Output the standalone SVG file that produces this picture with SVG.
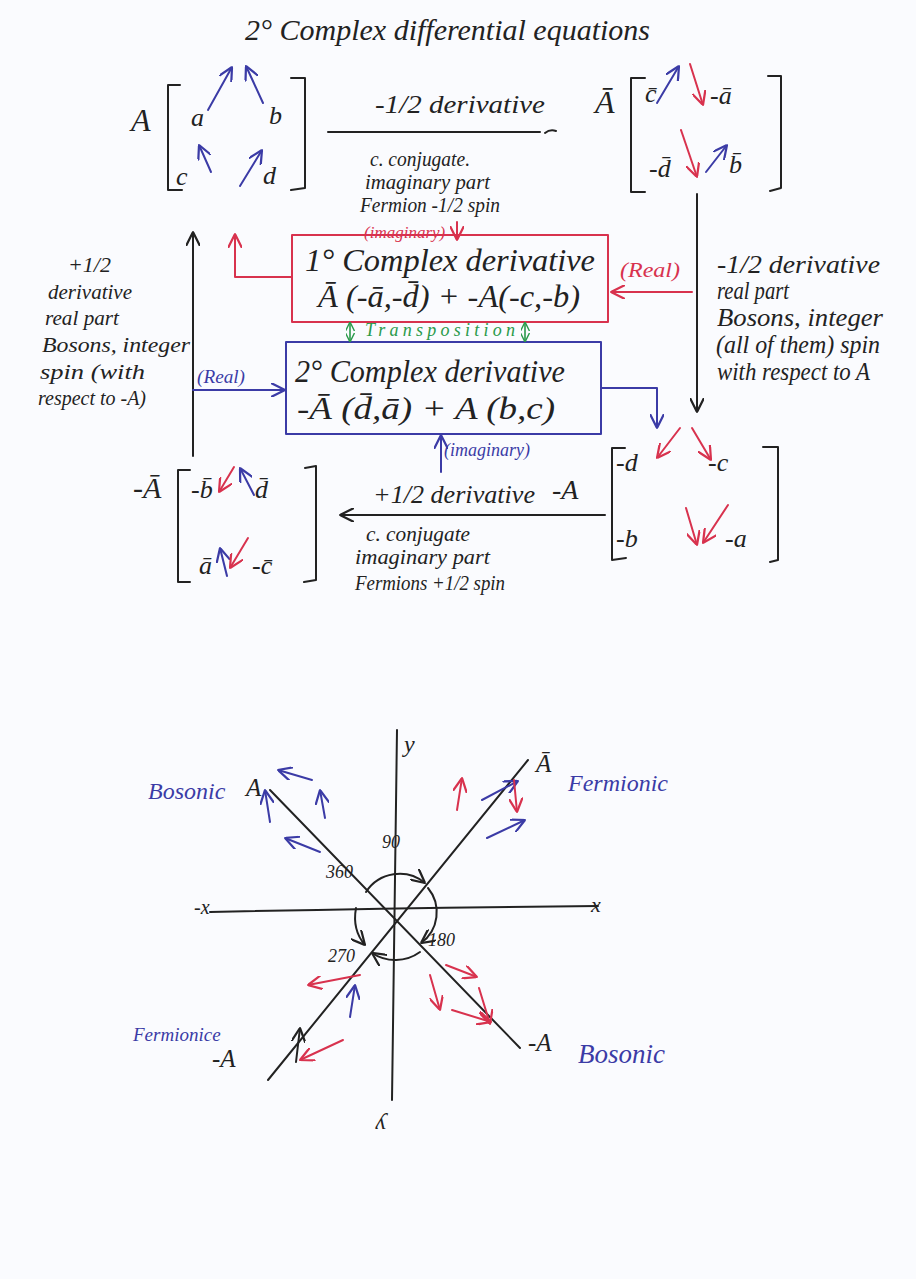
<svg xmlns="http://www.w3.org/2000/svg" width="916" height="1279" viewBox="0 0 916 1279">
<defs>
<style>
text{font-family:"Liberation Serif","DejaVu Serif",serif;font-style:italic;fill:#222}
.bl{fill:#3b3ba6}.rd{fill:#d8324e}.gr{fill:#2a9a4a}
.k{stroke:#222;stroke-width:2;fill:none;stroke-linecap:round;stroke-linejoin:round}
.b{stroke:#3b3ba6;stroke-width:2;fill:none;stroke-linecap:round;stroke-linejoin:round}
.r{stroke:#d8324e;stroke-width:2;fill:none;stroke-linecap:round;stroke-linejoin:round}
.g{stroke:#2a9a4a;stroke-width:1.6;fill:none}
.m{font-size:26px}.sl{font-size:22px}.sr{font-size:25px}.mid{font-size:21px}.bx{font-size:31px}.lw{font-size:24px}
</style>
<marker id="ak" viewBox="0 0 10 10" refX="10" refY="5" markerWidth="14" markerHeight="14" markerUnits="userSpaceOnUse" orient="auto"><path d="M0,0 L10,5 L0,10" fill="none" stroke="#222" stroke-width="1.6"/></marker>
<marker id="ab" viewBox="0 0 10 10" refX="10" refY="5" markerWidth="14" markerHeight="14" markerUnits="userSpaceOnUse" orient="auto"><path d="M0,0 L10,5 L0,10" fill="none" stroke="#3b3ba6" stroke-width="1.6"/></marker>
<marker id="ar" viewBox="0 0 10 10" refX="10" refY="5" markerWidth="14" markerHeight="14" markerUnits="userSpaceOnUse" orient="auto"><path d="M0,0 L10,5 L0,10" fill="none" stroke="#d8324e" stroke-width="1.6"/></marker>
<marker id="ag" viewBox="0 0 10 10" refX="10" refY="5" markerWidth="9" markerHeight="9" markerUnits="userSpaceOnUse" orient="auto-start-reverse"><path d="M0,0 L10,5 L0,10" fill="none" stroke="#2a9a4a" stroke-width="1.6"/></marker>
</defs>
<rect width="916" height="1279" fill="#fafbfe"/>

<g id="title"><text x="245" y="40" font-size="29" textLength="405" lengthAdjust="spacingAndGlyphs">2° Complex differential equations</text></g>

<g id="matA">
<text x="131" y="131" font-size="32">A</text>
<path class="k" d="M180,85 L168,85 L168,190 L182,190 M291,78 L305,78 L305,188 L291,190"/>
<text x="191" y="126" class="m">a</text><text x="269" y="124" class="m">b</text>
<text x="176" y="185" class="m">c</text><text x="263" y="184" class="m">d</text>
<path class="b" marker-end="url(#ab)" d="M208,110 L232,67"/>
<path class="b" marker-end="url(#ab)" d="M263,103 L246,66"/>
<path class="b" marker-end="url(#ab)" d="M211,172 L199,145"/>
<path class="b" marker-end="url(#ab)" d="M240,186 L262,150"/>
</g>

<g id="matAbar">
<text x="595" y="113" font-size="32">Ā</text>
<path class="k" d="M645,78 L631,78 L631,192 L645,192 M768,76 L781,76 L781,188 L770,191"/>
<text x="645" y="102" class="m">c̄</text><text x="710" y="104" class="m">-ā</text>
<text x="649" y="177" class="m">-d̄</text><text x="729" y="173" class="m">b̄</text>
<path class="b" marker-end="url(#ab)" d="M657,103 L679,66"/>
<path class="r" marker-end="url(#ar)" d="M690,64 L703,105"/>
<path class="r" marker-end="url(#ar)" d="M681,130 L697,177"/>
<path class="b" marker-end="url(#ab)" d="M706,172 L727,145"/>
</g>

<g id="box1">
<rect x="292" y="235" width="316" height="87" class="r"/>
<text x="305" y="271" class="bx" textLength="290" lengthAdjust="spacingAndGlyphs">1° Complex derivative</text>
<text x="318" y="307" class="bx" textLength="262" lengthAdjust="spacingAndGlyphs">Ā (-ā,-d̄) + -A(-c,-b)</text>
</g>

<g id="box2">
<rect x="286" y="342" width="315" height="92" class="b"/>
<text x="295" y="382" class="bx" textLength="270" lengthAdjust="spacingAndGlyphs">2° Complex derivative</text>
<text x="297" y="419" class="bx" textLength="258" lengthAdjust="spacingAndGlyphs">-Ā (d̄,ā) + A (b,c)</text>
</g>

<g id="matNegAbar">
<text x="133" y="498" font-size="30">-Ā</text>
<path class="k" d="M190,470 L178,470 L178,582 L190,582 M305,468 L316,466 L316,580 L304,582"/>
<text x="191" y="498" class="m">-b̄</text><text x="255" y="498" class="m">d̄</text>
<text x="199" y="574" class="m">ā</text><text x="252" y="574" class="m">-c̄</text>
<path class="r" marker-end="url(#ar)" d="M234,467 L219,492"/>
<path class="b" marker-end="url(#ab)" d="M254,495 L240,468"/>
<path class="b" marker-end="url(#ab)" d="M227,576 L220,548"/>
<path class="r" marker-end="url(#ar)" d="M248,538 L230,568"/>
</g>

<g id="matNegA">
<path class="k" d="M625,448 L612,448 L612,560 L626,558 M763,447 L778,447 L778,560 L770,562"/>
<text x="616" y="471" class="m">-d</text><text x="708" y="471" class="m">-c</text>
<text x="616" y="547" class="m">-b</text><text x="725" y="547" class="m">-a</text>
<path class="r" marker-end="url(#ar)" d="M680,428 L657,458"/>
<path class="r" marker-end="url(#ar)" d="M692,428 L711,460"/>
<path class="r" marker-end="url(#ar)" d="M686,508 L697,545"/>
<path class="r" marker-end="url(#ar)" d="M728,505 L703,543"/>
</g>

<g id="labelTop">
<text x="375" y="113" font-size="26" textLength="170" lengthAdjust="spacingAndGlyphs">-1/2 derivative</text>
<text x="370" y="166" class="mid" textLength="100" lengthAdjust="spacingAndGlyphs">c. conjugate.</text>
<text x="365" y="189" class="mid" textLength="125" lengthAdjust="spacingAndGlyphs">imaginary part</text>
<text x="360" y="212" class="mid" textLength="140" lengthAdjust="spacingAndGlyphs">Fermion -1/2 spin</text>
</g>
<g id="labelRight">
<text x="717" y="273" class="sr" textLength="163" lengthAdjust="spacingAndGlyphs">-1/2 derivative</text>
<text x="717" y="299" class="sr" textLength="72" lengthAdjust="spacingAndGlyphs">real part</text>
<text x="717" y="326" class="sr" textLength="166" lengthAdjust="spacingAndGlyphs">Bosons, integer</text>
<text x="716" y="353" class="sr" textLength="164" lengthAdjust="spacingAndGlyphs">(all of them) spin</text>
<text x="717" y="380" class="sr" textLength="153" lengthAdjust="spacingAndGlyphs">with respect to A</text>
</g>
<g id="labelLeft">
<text x="68" y="272" class="sl">+1/2</text>
<text x="48" y="299" class="sl" textLength="84" lengthAdjust="spacingAndGlyphs">derivative</text>
<text x="45" y="325" class="sl" textLength="74" lengthAdjust="spacingAndGlyphs">real part</text>
<text x="42" y="352" class="sl" textLength="148" lengthAdjust="spacingAndGlyphs">Bosons, integer</text>
<text x="40" y="379" class="sl" textLength="105" lengthAdjust="spacingAndGlyphs">spin (with</text>
<text x="38" y="405" class="sl" textLength="108" lengthAdjust="spacingAndGlyphs">respect to -A)</text>
</g>
<g id="labelBottom">
<text x="373" y="503" font-size="26" textLength="162" lengthAdjust="spacingAndGlyphs">+1/2 derivative</text>
<text x="552" y="499" font-size="28">-A</text>
<text x="366" y="541" class="mid" textLength="104" lengthAdjust="spacingAndGlyphs">c. conjugate</text>
<text x="355" y="564" class="mid" textLength="135" lengthAdjust="spacingAndGlyphs">imaginary part</text>
<text x="355" y="590" class="mid" textLength="150" lengthAdjust="spacingAndGlyphs">Fermions +1/2 spin</text>
</g>
<g id="edgeLabels">
<text x="364" y="238" class="rd" font-size="17">(imaginary)</text>
<text x="620" y="277" class="rd" font-size="22" textLength="60" lengthAdjust="spacingAndGlyphs">(Real)</text>
<text x="365" y="336" class="gr" font-size="18" textLength="150" lengthAdjust="spacing">Transposition</text>
<text x="197" y="383" class="bl" font-size="19" textLength="48" lengthAdjust="spacingAndGlyphs">(Real)</text>
<text x="444" y="456" class="bl" font-size="18" textLength="86" lengthAdjust="spacingAndGlyphs">(imaginary)</text>
</g>

<g id="connectors">
<path class="k" d="M328,132 L540,132 M545,133 Q550,129 556,131"/>
<path class="k" marker-end="url(#ak)" d="M697,194 L697,412"/>
<path class="k" marker-end="url(#ak)" d="M193,456 L193,232"/>
<path class="k" marker-end="url(#ak)" d="M605,515 L340,515"/>
<path class="r" marker-end="url(#ar)" d="M457,222 L457,240"/>
<path class="r" marker-end="url(#ar)" d="M692,292 L611,292"/>
<path class="r" marker-end="url(#ar)" d="M292,277 L235,277 L235,234"/>
<path class="g" marker-start="url(#ag)" marker-end="url(#ag)" d="M350,322 L350,342"/>
<path class="g" marker-start="url(#ag)" marker-end="url(#ag)" d="M525,322 L525,342"/>
<path class="b" marker-end="url(#ab)" d="M193,390 L285,390"/>
<path class="b" marker-end="url(#ab)" d="M601,388 L657,388 L657,428"/>
<path class="b" marker-end="url(#ab)" d="M441,472 L441,435"/>
</g>

<g id="phaseDiagram">
<path class="k" stroke-width="1.6" d="M397,730 L392,1100"/>
<path class="k" stroke-width="1.6" d="M210,912 Q400,908 598,906"/>
<path class="k" stroke-width="1.4" d="M270,790 L520,1048"/>
<path class="k" stroke-width="1.4" d="M528,760 L268,1080"/>
<text x="404" y="752" font-size="24">y</text>
<text x="398" y="1106" font-size="24" transform="rotate(180 392 1112)">y</text>
<text x="194" y="914" font-size="20">-x</text>
<text x="591" y="912" font-size="22">x</text>
<text x="246" y="796" font-size="25">A</text>
<text x="536" y="772" font-size="25">Ā</text>
<text x="212" y="1067" font-size="25">-A</text>
<text x="528" y="1051" font-size="25">-A</text>
<text x="148" y="799" class="bl lw">Bosonic</text>
<text x="568" y="791" class="bl lw">Fermionic</text>
<text x="133" y="1041" class="bl" font-size="19">Fermionice</text>
<text x="578" y="1063" class="bl" font-size="27">Bosonic</text>
<text x="382" y="848" font-size="18">90</text>
<text x="326" y="878" font-size="18">360</text>
<text x="428" y="946" font-size="18">180</text>
<text x="328" y="962" font-size="18">270</text>
<path class="k" stroke-width="1.6" marker-end="url(#ak)" d="M366,892 A40,40 0 0 1 425,883"/>
<path class="k" stroke-width="1.6" marker-end="url(#ak)" d="M428,888 A38,38 0 0 1 421,943"/>
<path class="k" stroke-width="1.6" marker-end="url(#ak)" d="M420,952 A42,42 0 0 1 372,953"/>
<path class="k" stroke-width="1.6" marker-end="url(#ak)" d="M356,908 Q352,930 365,945"/>
<path class="b" marker-end="url(#ab)" d="M312,780 L278,770"/>
<path class="b" marker-end="url(#ab)" d="M270,822 L265,790"/>
<path class="b" marker-end="url(#ab)" d="M325,818 L320,790"/>
<path class="b" marker-end="url(#ab)" d="M320,852 L285,838"/>
<path class="b" marker-end="url(#ab)" d="M482,800 L518,781"/>
<path class="b" marker-end="url(#ab)" d="M487,838 L525,820"/>
<path class="r" marker-end="url(#ar)" d="M457,810 L462,778"/>
<path class="r" marker-end="url(#ar)" d="M514,780 L517,812"/>
<path class="r" marker-end="url(#ar)" d="M446,965 L477,977"/>
<path class="r" marker-end="url(#ar)" d="M430,975 L440,1010"/>
<path class="r" marker-end="url(#ar)" d="M479,988 L490,1024"/>
<path class="r" marker-end="url(#ar)" d="M452,1010 L491,1022"/>
<path class="r" marker-end="url(#ar)" d="M360,975 L308,985"/>
<path class="b" marker-end="url(#ab)" d="M350,1017 L355,985"/>
<path class="k" marker-end="url(#ak)" d="M296,1062 L300,1028"/>
<path class="r" marker-end="url(#ar)" d="M343,1040 L300,1060"/>
</g>
</svg>
